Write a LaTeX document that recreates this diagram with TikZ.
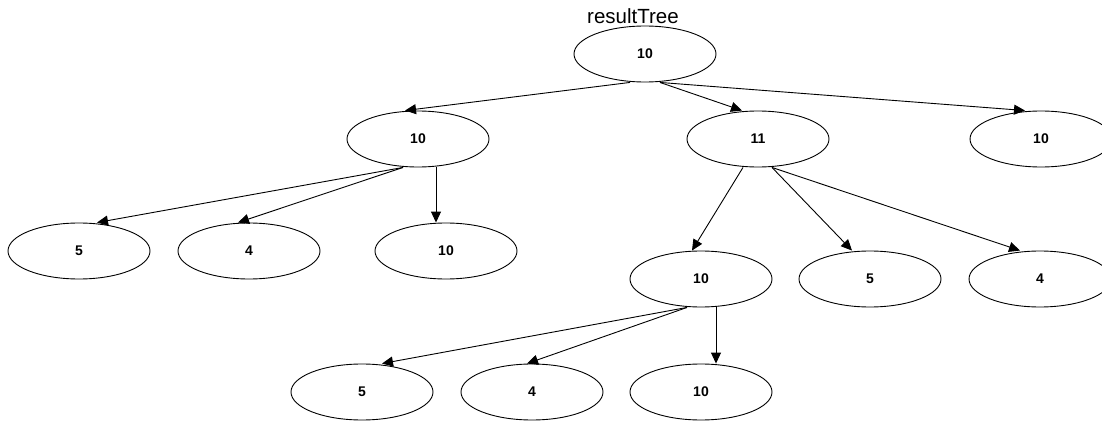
\documentclass[tikz,border=0pt]{standalone}
\usepackage{fontspec}
\setmainfont{Liberation Sans}
\usetikzlibrary{shapes.geometric,arrows.meta}
\begin{document}
\begin{tikzpicture}[x=1pt,y=-1pt,
  tn/.style={ellipse,draw,line width=0.9pt,minimum width=142pt,minimum height=56pt,inner sep=0pt,font=\fontsize{14}{16}\selectfont\bfseries},
  arr/.style={line width=0.9pt,-{Triangle[length=11pt,width=10pt]}}]
\path[use as bounding box,fill=white] (0,0) rectangle (1102,422);
\node[anchor=base,font=\fontsize{20.5}{22}\selectfont] (title) at (633,24) {resultTree};
\node[tn] (r) at (645,54) {10};
\node[tn] (a) at (418,139) {10};
\node[tn] (b) at (758,139) {11};
\node[tn] (c) at (1041,139) {10};
\node[tn] (a1) at (79,251) {5};
\node[tn] (a2) at (249,251) {4};
\node[tn] (a3) at (446,251) {10};
\node[tn] (b1) at (701,279) {10};
\node[tn] (b2) at (870,279) {5};
\node[tn] (b3) at (1040,279) {4};
\node[tn] (d1) at (362,392) {5};
\node[tn] (d2) at (532,392) {4};
\node[tn] (d3) at (701,392) {10};
\draw[arr] ([xshift=-15pt]r.south) -- ([xshift=-13pt]a.north);
\draw[arr] ([xshift=15pt]r.south) -- ([xshift=-16pt]b.north);
\draw[arr] ([xshift=15pt]r.south) -- ([xshift=-16pt]c.north);
\draw[arr] ([xshift=-15pt]a.south) -- ([xshift=18pt]a1.north);
\draw[arr] ([xshift=-15pt]a.south) -- ([xshift=-11pt]a2.north);
\draw[arr] ([xshift=18pt]a.south) -- ([xshift=-10pt]a3.north);
\draw[arr] ([xshift=-15pt]b.south) -- ([xshift=-9pt]b1.north);
\draw[arr] ([xshift=14pt]b.south) -- ([xshift=-18pt]b2.north);
\draw[arr] ([xshift=14pt]b.south) -- ([xshift=-20pt]b3.north);
\draw[arr] ([xshift=-14pt]b1.south) -- ([xshift=20pt]d1.north);
\draw[arr] ([xshift=-14pt]b1.south) -- ([xshift=-5pt]d2.north);
\draw[arr] ([xshift=15pt]b1.south) -- ([xshift=15pt]d3.north);
\end{tikzpicture}
\end{document}
